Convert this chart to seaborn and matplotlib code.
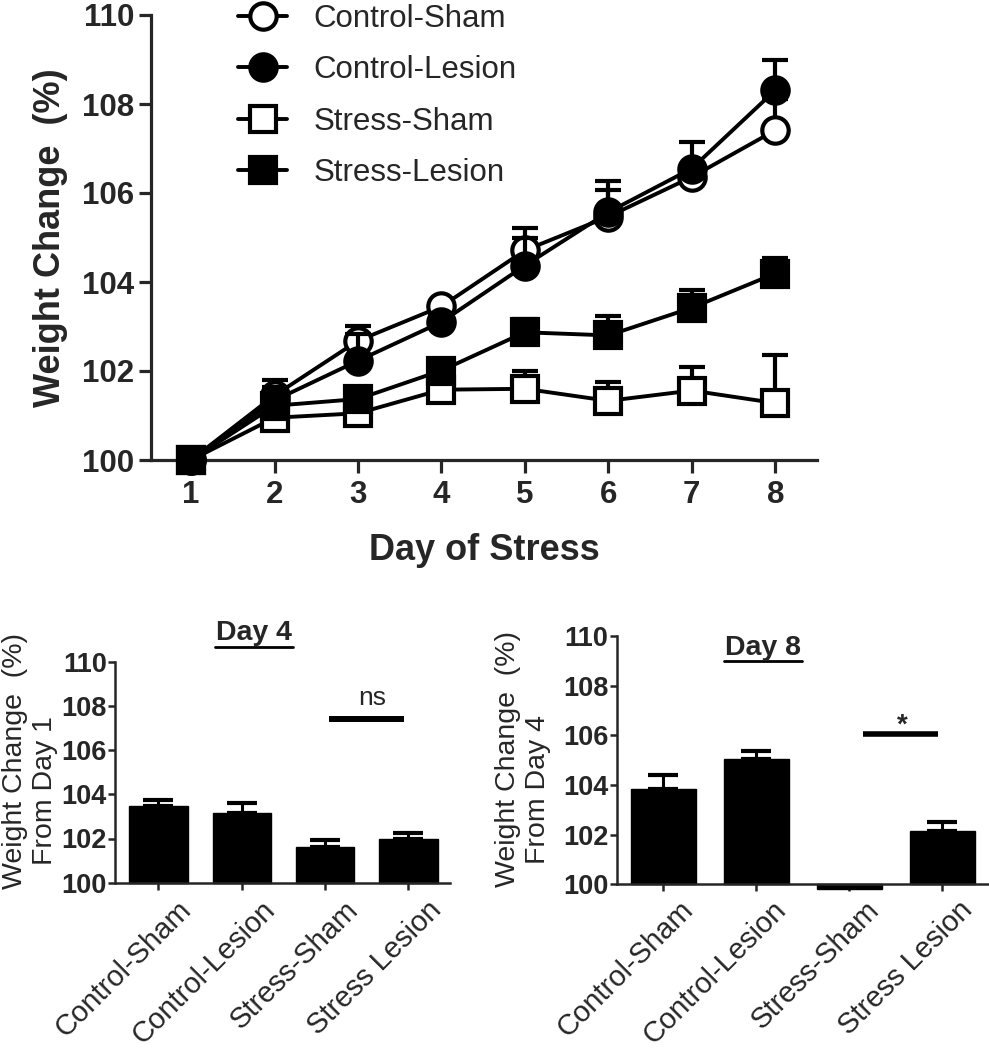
import numpy as np
import pandas as pd
import matplotlib
matplotlib.use("Agg")
import matplotlib.pyplot as plt
import seaborn as sns
from matplotlib.transforms import ScaledTranslation
from matplotlib.lines import Line2D

# ---------------- data ----------------
days = [1, 2, 3, 4, 5, 6, 7, 8]
groups = ["Control-Sham", "Control-Lesion", "Stress-Sham", "Stress-Lesion"]

cs_mean = [100.0, 101.45, 102.68, 103.45, 104.71, 105.47, 106.36, 107.41]
cs_sem = [0.0, 0.34, 0.34, 0.12, 0.50, 0.59, 0.20, 0.71]
cl_mean = [100.0, 101.34, 102.23, 103.10, 104.37, 105.57, 106.55, 108.31]
cl_sem = [0.0, 0.30, 0.60, 0.20, 0.63, 0.71, 0.60, 0.68]
ss_mean = [100.0, 100.95, 101.05, 101.58, 101.60, 101.33, 101.56, 101.28]
ss_sem = [0.0, 0.20, 0.20, 0.20, 0.39, 0.42, 0.54, 1.09]
sl_mean = [100.0, 101.22, 101.37, 102.01, 102.87, 102.80, 103.42, 104.19]
sl_sem = [0.0, 0.15, 0.20, 0.25, 0.30, 0.43, 0.39, 0.36]

bar_groups = ["Control-Sham", "Control-Lesion", "Stress-Sham", "Stress Lesion"]
day4_mean = [103.48, 103.17, 101.60, 101.96]
day4_sem = [0.24, 0.43, 0.33, 0.30]
day8_mean = [103.84, 105.06, 99.80, 102.16]
day8_sem = [0.56, 0.31, 0.0, 0.36]

yticks = [100, 102, 104, 106, 108, 110]

# ---------------- style ----------------
sns.set_style("ticks")
plt.rcParams["font.family"] = ["Liberation Sans", "DejaVu Sans"]

W, H = 989, 1050
fig = plt.figure(figsize=(W / 100, H / 100), dpi=100)


def fx(px):
    return px / W


def fy(py):
    return 1 - py / H


# ---------------- top line chart ----------------
ax = fig.add_axes([fx(151), fy(460), (817 - 151) / W, (460 - 15) / H])

long = pd.DataFrame({
    "day": days * 4,
    "weight": cs_mean + cl_mean + ss_mean + sl_mean,
    "sem": cs_sem + cl_sem + ss_sem + sl_sem,
    "group": sum([[g] * len(days) for g in groups], []),
})

styles = {
    "Control-Sham": dict(marker="o", markerfacecolor="white"),
    "Control-Lesion": dict(marker="o", markerfacecolor="black"),
    "Stress-Sham": dict(marker="s", markerfacecolor="white"),
    "Stress-Lesion": dict(marker="s", markerfacecolor="black"),
}

for i, g in enumerate(groups):
    sub = long[long["group"] == g]
    ax.errorbar(sub["day"], sub["weight"],
                yerr=[np.zeros(len(sub)), sub["sem"].values],
                fmt="none", ecolor="black", elinewidth=3, capsize=9.5,
                capthick=3, zorder=2 + 2 * i)
    sns.lineplot(data=sub, x="day", y="weight", ax=ax, color="black",
                 linewidth=2.8, markersize=19, markeredgecolor="black",
                 markeredgewidth=3, errorbar=None, label=g,
                 zorder=3 + 2 * i, clip_on=False, **styles[g])

ax.set_xlim(0.52, 8.5)
ax.set_ylim(100, 110)
ax.set_xticks(days)
ax.set_yticks(yticks)
sns.despine(ax=ax)
for s in ["left", "bottom"]:
    ax.spines[s].set_linewidth(2.3)
ax.tick_params(axis="both", length=9, width=2.3, pad=3, labelsize=22.5)
ax.tick_params(axis="x", pad=5.5)
for lbl in ax.get_xticklabels() + ax.get_yticklabels():
    lbl.set_fontweight("bold")
ax.set_xlabel("Day of Stress", fontsize=26, fontweight="bold")
ax.set_ylabel("Weight Change  (%)", fontsize=26, fontweight="bold")
ax.xaxis.set_label_coords(0.5, -0.163)
ax.yaxis.set_label_coords(-0.125, 0.5)

handles, labels = ax.get_legend_handles_labels()
leg = ax.legend(handles, labels, loc="upper left",
                bbox_to_anchor=(fx(238), fy(4)), bbox_transform=fig.transFigure,
                frameon=False, fontsize=22.5, handlelength=1.57,
                handletextpad=0.85, labelspacing=0.68, borderpad=0,
                borderaxespad=0)

# ---------------- bottom bar charts ----------------
axL = fig.add_axes([fx(115), fy(882.7), (450 - 115) / W, 221 / H])
axR = fig.add_axes([fx(616.7), fy(884.3), (989 - 616.7) / W, 248.3 / H])

for axb, means, sems, xl, dx, pad in [
        (axL, day4_mean, day4_sem, (-0.52, 3.5), 0.19, 4.5),
        (axR, day8_mean, day8_sem, (-0.5, 3.5), 0.16, 3.0)]:
    heights = np.array(means) - 100
    sns.barplot(x=bar_groups, y=heights, bottom=100, color="black",
                edgecolor="black", linewidth=1, width=0.7, saturation=1,
                errorbar=None, ax=axb, clip_on=False, zorder=2)
    axb.errorbar(np.arange(len(means)), means,
                 yerr=[np.zeros(len(means)), np.array(sems)],
                 fmt="none", ecolor="black", elinewidth=2.2, capsize=10.5,
                 capthick=3, zorder=1)
    axb.set_xlim(*xl)
    axb.set_ylim(100, 110)
    axb.set_yticks(yticks)
    sns.despine(ax=axb)
    for s in ["left", "bottom"]:
        axb.spines[s].set_linewidth(1.8)
        axb.spines[s].set_zorder(3)
    axb.tick_params(axis="y", length=5, width=1.8, pad=1, labelsize=19.5)
    axb.tick_params(axis="x", length=5, width=1.8, pad=pad, labelsize=21)
    for lbl in axb.get_yticklabels():
        lbl.set_fontweight("bold")
    axb.set_xlabel("")
    axb.set_ylabel("")
    off = ScaledTranslation(dx, 0, fig.dpi_scale_trans)
    for tick in axb.xaxis.get_major_ticks():
        t = tick.label1
        t.set_rotation(45)
        t.set_ha("right")
        t.set_va("top")
        t.set_rotation_mode("anchor")
        t.set_transform(t.get_transform() + off)

# significance annotations
axL.plot([2.05, 2.95], [107.4, 107.4], color="black", lw=4.3,
         solid_capstyle="butt")
axL.text(2.57, 108.34, "ns", ha="center", va="center", fontsize=19)
axR.plot([2.15, 2.95], [106.04, 106.04], color="black", lw=4,
         solid_capstyle="butt")
axR.text(2.57, 106.12, "*", ha="center", va="baseline", fontsize=20,
         fontweight="bold")

# bottom y labels (two lines each)
fig.text(fx(15), fy(761), "Weight Change  (%)", rotation=90, ha="center",
         va="center", fontsize=20.5)
fig.text(fx(45), fy(791), "From Day 1", rotation=90, ha="center",
         va="center", fontsize=20.5)
fig.text(fx(508), fy(759), "Weight Change  (%)", rotation=90, ha="center",
         va="center", fontsize=20.5)
fig.text(fx(538), fy(790), "From Day 4", rotation=90, ha="center",
         va="center", fontsize=20.5)

# underlined panel titles
fig.text(fx(254), fy(633), "Day 4", ha="center", va="center", fontsize=20.5,
         fontweight="bold")
fig.add_artist(Line2D([fx(215), fx(293)], [fy(647), fy(647)], color="black",
                      lw=2, transform=fig.transFigure))
fig.text(fx(763), fy(648), "Day 8", ha="center", va="center", fontsize=20.5,
         fontweight="bold")
fig.add_artist(Line2D([fx(724), fx(802)], [fy(661), fy(661)], color="black",
                      lw=2, transform=fig.transFigure))

fig.savefig("out.png", dpi=100)
